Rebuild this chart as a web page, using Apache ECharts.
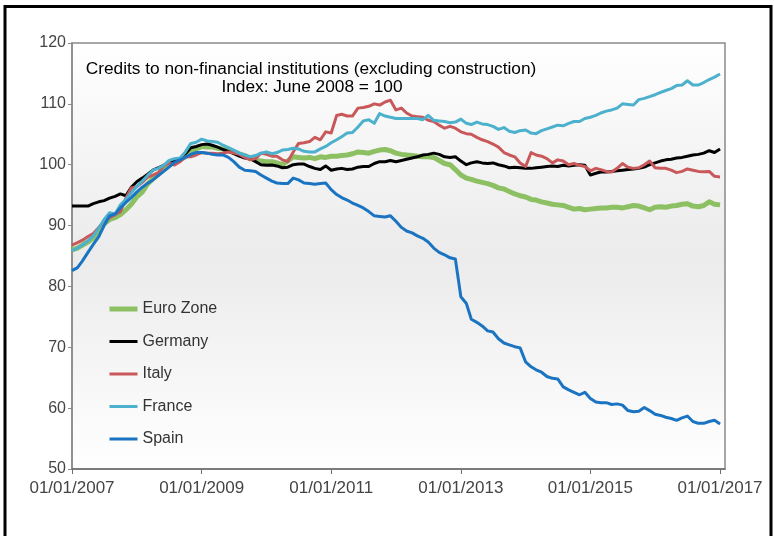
<!DOCTYPE html>
<html>
<head>
<meta charset="utf-8">
<script src="https://cdn.jsdelivr.net/npm/echarts@6/dist/echarts.min.js"></script>
<style>
html,body{margin:0;padding:0;background:#fff;}
#chart{width:774px;height:536px;}
</style>
</head>
<body>
<div id="chart"></div>
<script>
// Monthly observations, January 2007 .. January 2017
var startYear = 2007;
var startMonth = 1;

var euroZone = [86.0,86.3,86.8,87.3,88.0,89.2,90.3,91.0,91.3,91.8,92.6,93.5,
94.7,95.5,96.8,97.7,98.4,99.3,100.0,100.4,100.8,101.3,102.0,102.6,
103.0,102.9,102.9,102.7,102.6,102.4,102.1,101.8,101.5,101.1,100.8,100.6,
100.5,100.5,100.3,100.0,100.6,101.3,101.2,101.1,101.2,101.0,101.3,101.2,
101.4,101.4,101.5,101.6,101.8,102.1,102.0,101.9,102.2,102.4,102.5,102.3,
101.9,101.7,101.6,101.5,101.4,101.3,101.3,101.2,100.7,100.2,100.0,99.2,
98.3,97.8,97.6,97.3,97.1,96.9,96.6,96.2,96.0,95.6,95.2,94.9,
94.7,94.3,94.2,93.9,93.7,93.5,93.4,93.3,93.0,92.7,92.8,92.6,
92.7,92.8,92.9,92.9,93.0,93.0,92.9,93.1,93.3,93.2,92.9,92.6,
93.0,93.1,93.0,93.2,93.3,93.5,93.6,93.2,93.1,93.3,93.9,93.5,
93.4];

var germany = [93.2,93.2,93.2,93.2,93.6,93.9,94.1,94.5,94.8,95.2,94.9,96.3,
97.2,97.8,98.4,99.1,99.5,99.9,100.4,100.7,100.9,101.8,102.8,103.0,
103.3,103.4,103.2,102.9,102.5,102.2,101.8,101.4,101.1,101.0,100.5,100.0,
99.9,99.95,99.8,99.5,99.6,100.0,100.1,100.1,99.7,99.4,99.2,99.8,
99.1,99.3,99.4,99.2,99.3,99.6,99.7,99.7,100.2,100.5,100.5,100.7,
100.5,100.7,100.9,101.1,101.3,101.6,101.7,101.9,101.7,101.3,101.2,101.3,
100.6,100.0,100.3,100.5,100.3,100.2,100.3,100.0,99.8,99.5,99.6,99.5,
99.4,99.4,99.5,99.6,99.7,99.8,99.7,99.9,99.8,99.9,100.0,99.9,
98.3,98.6,98.8,98.8,98.9,99.0,99.1,99.2,99.3,99.4,99.6,100.0,
100.3,100.6,100.8,100.9,101.1,101.2,101.4,101.6,101.7,101.9,102.3,102.0,
102.6];

var italy = [86.8,87.2,87.6,88.2,88.7,89.7,90.6,91.3,91.8,92.3,94.5,96.2,
96.4,97.1,97.9,98.3,98.7,99.8,100.3,99.95,100.5,101.3,101.3,101.6,
102.0,101.9,101.9,101.8,101.9,102.1,101.9,101.7,101.2,100.8,101.0,101.9,
101.7,101.4,101.4,100.8,100.5,102.1,103.5,103.6,103.8,104.5,104.1,105.4,
105.2,108.1,108.3,108.0,108.0,109.3,109.4,109.6,110.0,109.8,110.3,110.6,
109.0,109.3,108.5,108.0,107.9,107.8,107.3,107.1,106.5,106.0,106.3,106.0,
105.4,105.1,105.0,104.5,104.1,103.8,103.4,102.9,102.0,101.6,101.3,100.3,
99.7,102.0,101.6,101.4,101.0,100.3,100.8,100.6,100.0,100.2,99.9,99.7,
99.0,99.4,99.2,98.9,98.8,99.4,100.2,99.6,99.4,99.5,100.0,100.6,
99.5,99.4,99.4,99.1,98.7,98.9,99.3,99.1,98.9,98.85,98.9,98.1,
98.0];

var france = [85.9,86.3,86.8,87.5,88.3,89.6,91.0,92.1,91.9,93.4,94.3,95.4,
96.4,97.3,98.2,99.1,99.4,99.9,100.7,101.0,101.1,102.1,103.5,103.7,
104.2,103.9,103.8,103.7,103.2,102.8,102.4,101.9,101.6,101.3,101.5,101.9,
102.1,101.8,102.0,102.4,102.5,102.7,102.6,102.2,102.1,102.1,102.6,103.0,
103.6,104.1,104.6,105.2,105.3,106.2,107.2,107.4,106.8,108.4,108.0,107.8,
107.6,107.6,107.6,107.6,107.6,107.4,108.1,107.3,107.2,107.1,106.9,107.0,
107.5,106.8,106.6,107.0,106.7,106.6,106.3,105.8,106.1,105.5,105.3,105.6,
105.7,105.2,105.1,105.6,105.9,106.2,106.5,106.4,106.8,107.1,107.1,107.6,
107.8,108.1,108.5,108.8,109.0,109.3,110.0,109.9,109.8,110.7,110.9,111.2,
111.5,111.9,112.2,112.5,113.0,113.1,113.8,113.1,113.1,113.5,114.0,114.4,
114.9];

var spain = [82.6,83.1,84.2,85.6,86.9,88.2,90.0,91.6,91.9,92.9,93.8,94.6,
95.5,96.3,96.9,97.5,98.2,98.9,99.6,100.4,100.8,101.2,101.7,102.0,
102.0,101.9,101.7,101.6,101.6,101.2,100.5,99.6,99.1,99.0,98.9,98.3,
97.8,97.3,97.0,96.9,96.9,97.8,97.5,97.0,96.9,96.8,96.9,97.0,
95.9,95.1,94.6,94.2,93.7,93.3,92.9,92.3,91.6,91.5,91.4,91.6,
90.7,89.7,89.1,88.8,88.3,87.9,87.3,86.3,85.6,85.2,84.7,84.5,
78.3,77.2,74.6,74.1,73.5,72.7,72.5,71.4,70.7,70.4,70.1,69.9,
67.6,66.8,66.3,65.9,65.2,64.9,64.8,63.5,63.0,62.6,62.2,62.6,
61.6,61.0,60.9,60.9,60.6,60.7,60.5,59.6,59.4,59.5,60.1,59.6,
59.0,58.8,58.5,58.3,58.0,58.4,58.7,57.8,57.5,57.5,57.8,58.0,
57.4];

var seriesNames = ['Euro Zone', 'Germany', 'Italy', 'France', 'Spain'];
var tickLabels = ['01/01/2007', '01/01/2009', '01/01/2011', '01/01/2013', '01/01/2015', '01/01/2017'];
var titleLines = ['Credits to non-financial institutions (excluding construction)', 'Index: June 2008 = 100'];

function monthTime(i) {
  var m = startMonth - 1 + i;
  return Date.UTC(startYear + Math.floor(m / 12), m % 12, 1);
}
function pairs(arr) {
  return arr.map(function (v, i) { return [monthTime(i), v]; });
}
function parseLabel(s) {
  var p = s.split('/');
  return Date.UTC(+p[2], +p[1] - 1, +p[0]);
}
var tickValues = tickLabels.map(parseLabel);
var labelByTime = {};
tickLabels.forEach(function (s, i) { labelByTime[tickValues[i]] = s; });
var DAY = 86400000;

var colors = ['#8cc063', '#000000', '#c9585a', '#4cb1cc', '#1b74c2'];
var widths = [5, 3, 3, 3, 3];
var dataSets = [euroZone, germany, italy, france, spain];

var chart = echarts.init(document.getElementById('chart'), null, {renderer: 'canvas'});
var font = 'Liberation Sans, Arial, sans-serif';

chart.setOption({
  animation: false,
  backgroundColor: '#ffffff',
  textStyle: {fontFamily: font},
  graphic: [
    {type: 'rect', shape: {x: 5, y: 6.5, width: 766, height: 560},
     style: {fill: 'none', stroke: '#000', lineWidth: 3}, silent: true, z: 100},
    {type: 'text', x: 311, y: 69, z: 50,
     style: {text: titleLines[0], fill: '#000', font: '17.3px ' + font, textAlign: 'center', textVerticalAlign: 'middle'}},
    {type: 'text', x: 312, y: 87, z: 50,
     style: {text: titleLines[1], fill: '#000', font: '17.3px ' + font, textAlign: 'center', textVerticalAlign: 'middle'}}
  ],
  grid: {
    left: 72, top: 43, right: 49, bottom: 67,
    show: true,
    borderColor: '#8a8a8a',
    borderWidth: 1.5,
    backgroundColor: new echarts.graphic.LinearGradient(0, 0, 0, 1, [
      {offset: 0, color: '#ffffff'},
      {offset: 0.5, color: '#ebebeb'},
      {offset: 1, color: '#ffffff'}
    ])
  },
  legend: {
    orient: 'vertical',
    left: 102,
    top: 296,
    itemWidth: 28,
    itemHeight: 14,
    itemGap: 16.5,
    data: seriesNames,
    itemStyle: {opacity: 0},
    lineStyle: {width: 'inherit'},
    textStyle: {fontSize: 16, color: '#333', fontFamily: font}
  },
  xAxis: {
    type: 'value',
    min: tickValues[0],
    max: tickValues[tickValues.length - 1] + 28 * DAY,
    splitLine: {show: false},
    axisLine: {show: true, lineStyle: {color: '#6e6e6e', width: 1.5}},
    axisTick: {show: true, length: 5, customValues: tickValues, lineStyle: {color: '#6e6e6e', width: 1}},
    axisLabel: {
      customValues: tickValues,
      fontSize: 17, color: '#444', margin: 11, fontFamily: font,
      formatter: function (v) { return labelByTime[v] || ''; }
    }
  },
  yAxis: {
    type: 'value',
    min: 50, max: 120, interval: 10,
    splitLine: {show: false},
    axisLine: {show: true, lineStyle: {color: '#8a8a8a', width: 1.5}},
    axisTick: {show: true, length: 4, lineStyle: {color: '#8a8a8a'}},
    axisLabel: {fontSize: 16, color: '#444', margin: 6, fontFamily: font}
  },
  series: seriesNames.map(function (name, i) {
    return {
      name: name,
      type: 'line',
      data: pairs(dataSets[i]),
      symbol: 'none',
      showSymbol: false,
      color: colors[i],
      lineStyle: {color: colors[i], width: widths[i], join: 'round'},
      z: 2 + i
    };
  })
});
</script>
</body>
</html>
